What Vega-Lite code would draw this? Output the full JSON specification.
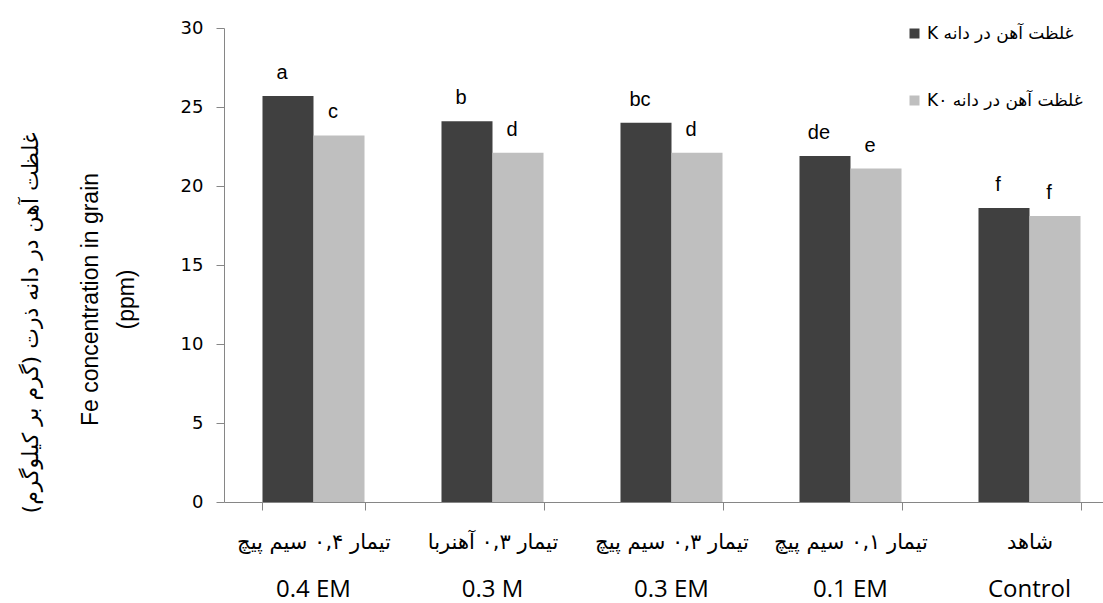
{
  "$schema": "https://vega.github.io/schema/vega-lite/v6.json",
  "width": 895,
  "height": 474,
  "autosize": {"type": "none"},
  "padding": {"left": 224, "top": 28, "right": 0, "bottom": 101},
  "background": "white",
  "config": {"view": {"stroke": null}},
  "title": {
    "text": "غلظت آهن در دانه ذرت (گرم بر کیلوگرم)\u200F",
    "orient": "left",
    "anchor": "middle",
    "font": "DejaVu Sans",
    "fontSize": 22,
    "fontWeight": "normal",
    "color": "#000000",
    "offset": 36,
    "dx": -58
  },
  "data": {
    "values": [
      {"treatment": "تیمار ۰,۴ سیم پیچ|0.4 EM", "series": "K غلظت آهن در دانه", "value": 25.7, "letter": "a"},
      {"treatment": "تیمار ۰,۴ سیم پیچ|0.4 EM", "series": "K۰\u200E غلظت آهن در دانه", "value": 23.2, "letter": "c"},
      {"treatment": "تیمار ۰,۳ آهنربا|0.3 M", "series": "K غلظت آهن در دانه", "value": 24.1, "letter": "b"},
      {"treatment": "تیمار ۰,۳ آهنربا|0.3 M", "series": "K۰\u200E غلظت آهن در دانه", "value": 22.1, "letter": "d"},
      {"treatment": "تیمار ۰,۳ سیم پیچ|0.3 EM", "series": "K غلظت آهن در دانه", "value": 24.0, "letter": "bc"},
      {"treatment": "تیمار ۰,۳ سیم پیچ|0.3 EM", "series": "K۰\u200E غلظت آهن در دانه", "value": 22.1, "letter": "d"},
      {"treatment": "تیمار ۰,۱ سیم پیچ|0.1 EM", "series": "K غلظت آهن در دانه", "value": 21.9, "letter": "de"},
      {"treatment": "تیمار ۰,۱ سیم پیچ|0.1 EM", "series": "K۰\u200E غلظت آهن در دانه", "value": 21.1, "letter": "e"},
      {"treatment": "شاهد|Control", "series": "K غلظت آهن در دانه", "value": 18.6, "letter": "f"},
      {"treatment": "شاهد|Control", "series": "K۰\u200E غلظت آهن در دانه", "value": 18.1, "letter": "f"}
    ]
  },
  "encoding": {
    "xOffset": {"field": "series", "type": "nominal", "sort": null},
    "y": {
      "field": "value",
      "type": "quantitative",
      "scale": {"domain": [0, 30]},
      "axis": {
        "values": [0, 5, 10, 15, 20, 25, 30],
        "grid": false,
        "tickSize": 8,
        "tickColor": "#868686",
        "domainColor": "#868686",
        "labelFont": "DejaVu Sans",
        "labelFontSize": 18,
        "labelColor": "#000000",
        "labelPadding": 13,
        "title": ["Fe concentration in grain", "(ppm)"],
        "titleFont": "Liberation Sans",
        "titleFontSize": 23,
        "titleFontWeight": "normal",
        "titleColor": "#000000",
        "titleLineHeight": 36,
        "titleX": -122,
        "titleY": 271
      }
    }
  },
  "resolve": {"axis": {"x": "independent"}},
  "layer": [
    {
      "mark": {"type": "bar"},
      "encoding": {
        "x": {
          "field": "treatment",
          "type": "nominal",
          "sort": null,
          "scale": {"paddingInner": 0.43, "paddingOuter": 0.215},
          "axis": {
            "orient": "bottom",
            "title": null,
            "labelExpr": "datum.value ? split(datum.value, '|')[0] : ''",
            "labelAngle": 0,
            "labelFont": "DejaVu Sans",
            "labelFontSize": 21,
            "labelColor": "#000000",
            "labelPadding": 21,
            "tickBand": "extent",
            "tickSize": 8,
            "tickColor": "#868686",
            "domainColor": "#868686",
            "grid": false
          }
        },
        "color": {
          "field": "series",
          "type": "nominal",
          "scale": {
            "domain": ["K غلظت آهن در دانه", "K۰\u200E غلظت آهن در دانه"],
            "range": ["#404040", "#bfbfbf"]
          },
          "legend": {
            "title": null,
            "orient": "none",
            "legendX": 682,
            "legendY": -3,
            "symbolType": "square",
            "symbolSize": 100,
            "symbolStrokeWidth": 0,
            "labelFont": "DejaVu Sans",
            "labelFontSize": 17,
            "labelColor": "#000000",
            "rowPadding": 49,
            "labelLimit": 300
          }
        }
      }
    },
    {
      "mark": {"type": "text", "baseline": "bottom", "dy": -13, "dx": -6, "font": "Liberation Sans", "fontSize": 20, "color": "#000000"},
      "encoding": {
        "x": {
          "field": "treatment",
          "type": "nominal",
          "sort": null,
          "scale": {"paddingInner": 0.43, "paddingOuter": 0.215},
          "axis": {
            "orient": "bottom",
            "title": null,
            "labelExpr": "datum.value ? split(datum.value, '|')[1] : ''",
            "labelAngle": 0,
            "labelFont": "Open Sans",
            "labelFontSize": 24,
            "labelColor": "#000000",
            "labelPadding": 0,
            "offset": 75,
            "ticks": false,
            "domain": false,
            "grid": false
          }
        },
        "text": {"field": "letter"}
      }
    }
  ]
}
